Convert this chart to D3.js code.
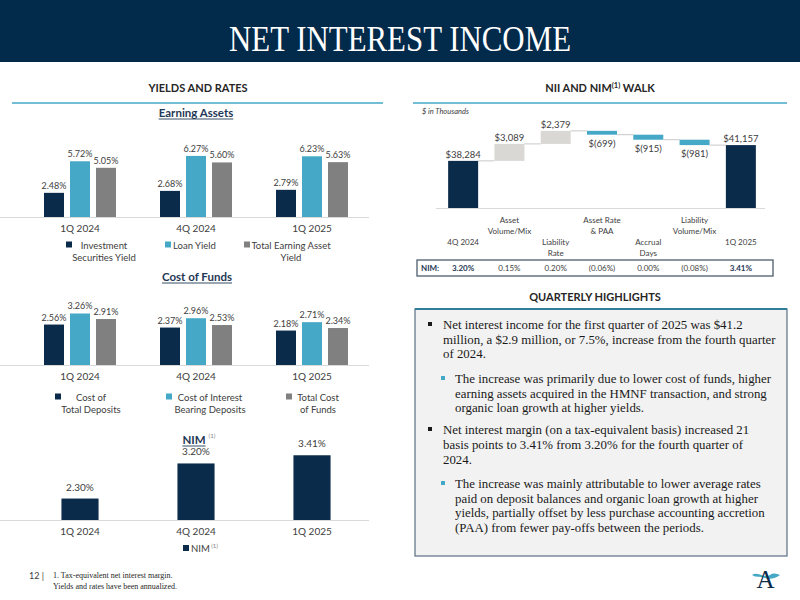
<!DOCTYPE html>
<html><head><meta charset="utf-8">
<script src="https://cdn.jsdelivr.net/npm/d3@7"></script>
<style>
html,body{margin:0;padding:0;background:#fff;}
svg{display:block;}
</style></head>
<body>
<svg id="chart" width="800" height="600"></svg>
<script>
// ---------------- DATA ----------------
const quarters = ["1Q 2024", "4Q 2024", "1Q 2025"];

const eaSeriesNames = ["Investment Securities Yield", "Loan Yield", "Total Earning Asset Yield"];
const eaInvestment = [2.48, 2.68, 2.79];
const eaLoan = [5.72, 6.27, 6.23];
const eaTotal = [5.05, 5.60, 5.63];
const eaLegendLines = [["Investment", "Securities Yield"], ["Loan Yield"], ["Total Earning Asset", "Yield"]];

const cofSeriesNames = ["Cost of Total Deposits", "Cost of Interest Bearing Deposits", "Total Cost of Funds"];
const cofDeposits = [2.56, 2.37, 2.18];
const cofInterestBearing = [3.26, 2.96, 2.71];
const cofTotal = [2.91, 2.53, 2.34];
const cofLegendLines = [["Cost of", "Total Deposits"], ["Cost of Interest", "Bearing Deposits"], ["Total Cost", "of Funds"]];

const nimValues = [2.30, 3.20, 3.41];

const walkCategories = ["4Q 2024", "Asset Volume/Mix", "Liability Rate", "Asset Rate & PAA", "Accrual Days", "Liability Volume/Mix", "1Q 2025"];
const walkLabelLines = [["4Q 2024"], ["Asset", "Volume/Mix"], ["Liability", "Rate"], ["Asset Rate", "& PAA"], ["Accrual", "Days"], ["Liability", "Volume/Mix"], ["1Q 2025"]];
const walkValues = [38284, 3089, 2379, -699, -915, -981, 41157];
const walkIsTotal = [true, false, false, false, false, false, true];
const walkNim = ["3.20%", "0.15%", "0.20%", "(0.06%)", "0.00%", "(0.08%)", "3.41%"];

const highlights = [
  {level: 1, lines: ["Net interest income for the first quarter of 2025 was $41.2",
                     "million, a $2.9 million, or 7.5%, increase from the fourth quarter",
                     "of 2024."]},
  {level: 2, lines: ["The increase was primarily due to lower cost of funds, higher",
                     "earning assets acquired in the HMNF transaction, and strong",
                     "organic loan growth at higher yields."]},
  {level: 1, lines: ["Net interest margin (on a tax-equivalent basis) increased 21",
                     "basis points to 3.41% from 3.20% for the fourth quarter of",
                     "2024."]},
  {level: 2, lines: ["The increase was mainly attributable to lower average rates",
                     "paid on deposit balances and organic loan growth at higher",
                     "yields, partially offset by less purchase accounting accretion",
                     "(PAA) from fewer pay-offs between the periods."]}
];

// ---------------- STYLE ----------------
const NAVY = "#0b2b4a", TEAL = "#45a8c6", GRAY = "#808080", LIGHTGRAY = "#d9d8d4";
const TXT = "#404040";
const SANS = "Lato, 'Open Sans', sans-serif";
const SERIF = "'Liberation Serif', 'DejaVu Serif', serif";
const seriesColors = [NAVY, TEAL, GRAY];

const svg = d3.select("#chart");

// header
svg.append("rect").attr("x", 0).attr("y", 0).attr("width", 800).attr("height", 62).attr("fill", "#012a4b");
svg.append("text").attr("x", 400).attr("y", 50.5).attr("text-anchor", "middle")
  .attr("font-family", SERIF).attr("font-size", 36).attr("fill", "#fff")
  .attr("textLength", 342).attr("lengthAdjust", "spacingAndGlyphs")
  .text("NET INTEREST INCOME");

// section headers
function sectionHeader(cx, y, x1, x2, label, sup, rest) {
  const t = svg.append("text").attr("x", cx).attr("y", y).attr("text-anchor", "middle")
    .attr("font-family", SANS).attr("font-weight", 700).attr("font-size", 11).attr("fill", "#262626");
  t.append("tspan").text(label);
  if (sup) {
    t.append("tspan").attr("font-size", 7.5).attr("dy", -4).text(sup);
    t.append("tspan").attr("dy", 4).text(rest);
  }
  svg.append("line").attr("x1", x1).attr("x2", x2).attr("y1", y + 11).attr("y2", y + 11)
    .attr("stroke", TEAL).attr("stroke-width", 1.6);
}
sectionHeader(198, 92, 12, 383, "YIELDS AND RATES");
sectionHeader(600, 92, 413, 787, "NII AND NIM", "(1)", " WALK");

function subTitle(cx, y, label, sup) {
  const t = svg.append("text").attr("x", cx).attr("y", y).attr("text-anchor", "middle")
    .attr("font-family", SANS).attr("font-weight", 700).attr("font-size", 11.5).attr("fill", "#1f3856")
    .text(label);
  const w = t.node().getComputedTextLength();
  svg.append("line").attr("x1", cx - w / 2).attr("x2", cx + w / 2).attr("y1", y + 2).attr("y2", y + 2)
    .attr("stroke", "#1f3856").attr("stroke-width", 0.9);
  if (sup) {
    svg.append("text").attr("x", cx + w / 2 + 3).attr("y", y - 6).attr("font-family", SANS)
      .attr("font-size", 6).attr("fill", "#808080").text(sup);
  }
}

// ---------------- GROUPED BAR CHARTS ----------------
const xGroup = d3.scaleBand().domain(quarters).range([22, 370]).paddingInner(0).paddingOuter(0);

function groupedChart(cfg) {
  const g = svg.append("g");
  const y = d3.scaleLinear().domain(cfg.domain).range([cfg.base, cfg.top]);
  const xInner = d3.scaleBand().domain(d3.range(cfg.series.length))
    .range([-36, 36]).paddingInner(6 / 26).paddingOuter(0);
  quarters.forEach((q, qi) => {
    const cx = xGroup(q) + xGroup.bandwidth() / 2 + cfg.dx;
    cfg.series.forEach((s, si) => {
      const x0 = cx + xInner(si);
      g.append("rect").attr("x", x0).attr("y", y(s[qi])).attr("width", xInner.bandwidth())
        .attr("height", cfg.base - y(s[qi])).attr("fill", seriesColors[si]);
      g.append("text").attr("x", x0 + xInner.bandwidth() / 2).attr("y", y(s[qi]) - 4)
        .attr("text-anchor", "middle").attr("font-family", SANS).attr("font-size", 9)
        .attr("fill", TXT).text(s[qi].toFixed(2) + "%");
    });
  });
  // axis
  const axis = g.append("g").attr("transform", `translate(0,${cfg.base})`)
    .call(d3.axisBottom(xGroup).tickSize(0).tickPadding(8));
  axis.select(".domain").attr("stroke", "#d9d9d9").attr("d", "M-10,0.5H369");
  axis.selectAll("text").attr("font-family", SANS).attr("font-size", 10).attr("fill", TXT)
    .attr("dy", "0.71em").attr("y", 8);
  // legend
  cfg.legend.forEach((lines, i) => {
    const L = cfg.legendPos[i];
    g.append("rect").attr("x", L.mx - 3).attr("y", cfg.ly - 3.5).attr("width", 6).attr("height", 6)
      .attr("fill", seriesColors[i]);
    lines.forEach((ln, li) => {
      g.append("text").attr("x", L.tx).attr("y", cfg.ly + 3.5 + li * 12)
        .attr("text-anchor", L.anchor).attr("font-family", SANS).attr("font-size", 9.5)
        .attr("fill", TXT).text(ln);
    });
  });
}

subTitle(196, 117, "Earning Assets");
groupedChart({
  series: [eaInvestment, eaLoan, eaTotal], domain: [0, 7], base: 217, top: 148.8, dx: 0,
  legend: eaLegendLines, ly: 245,
  legendPos: [{mx: 69, tx: 104, anchor: "middle"}, {mx: 168, tx: 173, anchor: "start"}, {mx: 247, tx: 291, anchor: "middle"}]
});

subTitle(197, 281, "Cost of Funds");
groupedChart({
  series: [cofDeposits, cofInterestBearing, cofTotal], domain: [0, 3.5], base: 365, top: 309.7, dx: 0,
  legend: cofLegendLines, ly: 397,
  legendPos: [{mx: 58, tx: 91, anchor: "middle"}, {mx: 169, tx: 210, anchor: "middle"}, {mx: 289, tx: 318, anchor: "middle"}]
});

// ---------------- NIM CHART ----------------
subTitle(194, 444, "NIM", "(1)");
(function () {
  const base = 520;
  const y = d3.scaleLinear().domain([1.75, 3.5]).range([base, base - 68.25]);
  const x = d3.scaleBand().domain(quarters).range([22, 370]).paddingInner(0.68).paddingOuter(0.34);
  const g = svg.append("g");
  g.selectAll("rect.nim").data(nimValues).join("rect")
    .attr("x", (d, i) => x(quarters[i])).attr("y", d => y(d))
    .attr("width", x.bandwidth()).attr("height", d => base - y(d)).attr("fill", NAVY);
  g.selectAll("text.nim").data(nimValues).join("text")
    .attr("x", (d, i) => x(quarters[i]) + x.bandwidth() / 2).attr("y", d => y(d) - 8)
    .attr("text-anchor", "middle").attr("font-family", SANS).attr("font-size", 10).attr("fill", TXT)
    .text(d => d.toFixed(2) + "%");
  const axis = g.append("g").attr("transform", `translate(0,${base})`)
    .call(d3.axisBottom(x).tickSize(0).tickPadding(8));
  axis.select(".domain").attr("stroke", "#d9d9d9").attr("d", "M-6,0.5H369");
  axis.selectAll("text").attr("font-family", SANS).attr("font-size", 10).attr("fill", TXT);
  g.append("rect").attr("x", 183).attr("y", 545).attr("width", 6).attr("height", 6).attr("fill", NAVY);
  const lt = g.append("text").attr("x", 191).attr("y", 551.5).attr("font-family", SANS)
    .attr("font-size", 9.5).attr("fill", TXT);
  lt.append("tspan").text("NIM");
  lt.append("tspan").attr("font-size", 6).attr("dy", -4).attr("fill", "#808080").text(" (1)");
})();

// footer
svg.append("text").attr("x", 29).attr("y", 579).attr("font-family", SANS).attr("font-size", 9)
  .attr("fill", TXT).text("12 |");
svg.append("text").attr("x", 53).attr("y", 578).attr("font-family", SERIF).attr("font-size", 8)
  .attr("fill", "#262626").text("1. Tax-equivalent net interest margin.");
svg.append("text").attr("x", 53).attr("y", 589).attr("font-family", SERIF).attr("font-size", 8)
  .attr("fill", "#262626").text("Yields and rates have been annualized.");

// ---------------- WATERFALL ----------------
svg.append("text").attr("x", 422).attr("y", 114).attr("font-family", SANS).attr("font-style", "italic")
  .attr("font-size", 7.5).attr("fill", TXT).text("$ in Thousands");
(function () {
  const base = 208;
  const x = d3.scaleBand().domain(walkCategories).range([440, 764]).paddingInner(0.352).paddingOuter(0.176);
  const y = d3.scaleLinear().domain([29700, 44000]).range([base, base - 14300 * 0.00549]);
  const g = svg.append("g");
  let running = 0;
  const bars = walkValues.map((v, i) => {
    let y0, y1;
    if (walkIsTotal[i]) { y0 = y.domain()[0]; y1 = v; running = v; }
    else { y0 = running; y1 = running + v; running = y1; }
    return {cat: walkCategories[i], v, y0, y1, end: running, total: walkIsTotal[i]};
  });
  // connectors
  bars.forEach((b, i) => {
    if (i < bars.length - 1) {
      const nx = bars[i + 1];
      g.append("line").attr("x1", x(b.cat) + x.bandwidth()).attr("x2", x(nx.cat))
        .attr("y1", y(b.end)).attr("y2", y(b.end)).attr("stroke", "#c8c8c8").attr("stroke-width", 1);
    }
  });
  bars.forEach(b => {
    const top = Math.max(b.y0, b.y1), bot = Math.min(b.y0, b.y1);
    g.append("rect").attr("x", x(b.cat)).attr("y", y(top)).attr("width", x.bandwidth())
      .attr("height", y(bot) - y(top))
      .attr("fill", b.total ? NAVY : (b.v >= 0 ? LIGHTGRAY : TEAL));
    const fmt = d3.format(",");
    const label = b.v >= 0 ? "$" + fmt(b.v) : "$(" + fmt(-b.v) + ")";
    g.append("text").attr("x", x(b.cat) + x.bandwidth() / 2)
      .attr("y", b.v >= 0 ? y(top) - 3 : y(bot) + 12)
      .attr("text-anchor", "middle").attr("font-family", SANS).attr("font-size", 9.5)
      .attr("fill", TXT).text(label);
  });
  g.append("line").attr("x1", 436).attr("x2", 765).attr("y1", base + 0.5).attr("y2", base + 0.5)
    .attr("stroke", "#d9d9d9");
  // category labels (staggered)
  walkLabelLines.forEach((lines, i) => {
    const cx = x(walkCategories[i]) + x.bandwidth() / 2;
    const y0 = (i % 2 === 1) ? 223 : 245;
    lines.forEach((ln, li) => {
      g.append("text").attr("x", cx).attr("y", y0 + li * 11).attr("text-anchor", "middle")
        .attr("font-family", SANS).attr("font-size", 8).attr("fill", TXT).text(ln);
    });
  });
  // NIM row
  g.append("rect").attr("x", 417).attr("y", 260).attr("width", 356).attr("height", 16)
    .attr("fill", "#fff").attr("stroke", "#4d5d6e").attr("stroke-width", 1.3);
  g.append("text").attr("x", 421).attr("y", 271).attr("font-family", SANS).attr("font-weight", 700)
    .attr("font-size", 8).attr("fill", "#1f3856").text("NIM:");
  walkNim.forEach((t, i) => {
    g.append("text").attr("x", x(walkCategories[i]) + x.bandwidth() / 2).attr("y", 271)
      .attr("text-anchor", "middle").attr("font-family", SANS).attr("font-size", 8)
      .attr("font-weight", walkIsTotal[i] ? 700 : 400).attr("fill", walkIsTotal[i] ? "#1f3856" : TXT).text(t);
  });
})();

// ---------------- HIGHLIGHTS ----------------
sectionHeaderNoLine(595, 301, "QUARTERLY HIGHLIGHTS");
function sectionHeaderNoLine(cx, y, label) {
  svg.append("text").attr("x", cx).attr("y", y).attr("text-anchor", "middle")
    .attr("font-family", SANS).attr("font-weight", 700).attr("font-size", 11).attr("fill", "#262626").text(label);
}
svg.append("rect").attr("x", 415).attr("y", 309).attr("width", 372).attr("height", 247)
  .attr("fill", "#f2f2f2").attr("stroke", "#5b6e80").attr("stroke-width", 1.2);
svg.append("line").attr("x1", 415).attr("x2", 787).attr("y1", 309).attr("y2", 309)
  .attr("stroke", "#2f7f9a").attr("stroke-width", 1.8);
(function () {
  const g = svg.append("g");
  // fit font so the widest reference line spans 333px
  const probe = g.append("text").attr("font-family", SERIF).attr("font-size", 12)
    .text(highlights[0].lines[1]);
  const w = probe.node().getComputedTextLength();
  probe.remove();
  const fs = 12 * 333 / w;
  const baselines = [[329, 343.5, 358], [383, 397.5, 412], [434, 449, 464], [488, 502.5, 517, 532]];
  highlights.forEach((h, hi) => {
    const bx = h.level === 1 ? 430 : 443;
    const tx = h.level === 1 ? 443 : 455;
    const b0 = baselines[hi][0];
    g.append("rect").attr("x", bx - 2).attr("y", b0 - 7).attr("width", 4).attr("height", 4)
      .attr("fill", h.level === 1 ? "#1a1a1a" : TEAL);
    h.lines.forEach((ln, li) => {
      g.append("text").attr("x", tx).attr("y", baselines[hi][li]).attr("font-family", SERIF)
        .attr("font-size", fs).attr("fill", "#1a1a1a").text(ln);
    });
  });
})();

// logo
svg.append("path").attr("d", "M752,575 C758,571 764,579 770,575 C774,572 777,574 780,575 C776,578 770,580 765,578 C760,576 756,578 752,575 Z")
  .attr("fill", TEAL);
svg.append("text").attr("x", 765.5).attr("y", 587.5).attr("text-anchor", "middle").attr("font-family", SERIF)
  .attr("font-size", 25).attr("fill", NAVY).text("A");
</script>
</body></html>
